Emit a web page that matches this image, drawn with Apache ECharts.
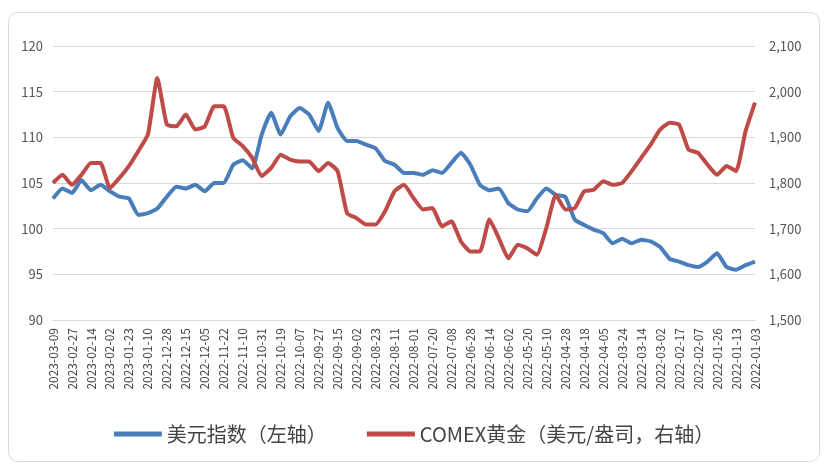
<!DOCTYPE html>
<html><head><meta charset="utf-8">
<script src="https://cdn.jsdelivr.net/npm/echarts@6/dist/echarts.min.js"></script>
<style>html,body{margin:0;background:#fff}#c{position:absolute;left:8px;top:12px;width:812px;height:450px;border:1px solid #d9d9d9;border-radius:10px;box-sizing:border-box}</style>
</head><body><div id="c"></div>
<script>
const dates = ["2023-03-09","2023-03-03","2023-02-27","2023-02-21","2023-02-14","2023-02-08","2023-02-02","2023-01-27","2023-01-23","2023-01-17","2023-01-10","2023-01-04","2022-12-28","2022-12-21","2022-12-15","2022-12-09","2022-12-05","2022-11-29","2022-11-22","2022-11-16","2022-11-10","2022-11-04","2022-10-31","2022-10-25","2022-10-19","2022-10-13","2022-10-07","2022-10-03","2022-09-27","2022-09-21","2022-09-15","2022-09-09","2022-09-02","2022-08-29","2022-08-23","2022-08-17","2022-08-11","2022-08-05","2022-08-01","2022-07-26","2022-07-20","2022-07-14","2022-07-08","2022-07-01","2022-06-28","2022-06-21","2022-06-14","2022-06-08","2022-06-02","2022-05-26","2022-05-20","2022-05-16","2022-05-10","2022-05-04","2022-04-28","2022-04-22","2022-04-18","2022-04-11","2022-04-05","2022-03-30","2022-03-24","2022-03-18","2022-03-14","2022-03-08","2022-03-02","2022-02-23","2022-02-17","2022-02-11","2022-02-07","2022-02-01","2022-01-26","2022-01-20","2022-01-13","2022-01-07","2022-01-03"];
const usdIndex = [103.3,104.4,103.9,105.3,104.2,104.8,104.1,103.5,103.3,101.5,101.7,102.2,103.5,104.6,104.4,104.8,104.1,105.0,105.0,107.0,107.5,106.6,110.3,112.7,110.3,112.3,113.2,112.5,110.7,113.8,111.0,109.6,109.6,109.2,108.8,107.4,107.0,106.1,106.1,105.9,106.4,106.1,107.2,108.3,107.0,104.8,104.2,104.4,102.8,102.1,101.9,103.3,104.4,103.7,103.5,101.0,100.4,99.9,99.5,98.4,98.9,98.4,98.8,98.6,98.0,96.7,96.4,96.0,95.8,96.4,97.3,95.8,95.5,96.0,96.4];
const gold = [1800,1818,1796,1818,1844,1844,1789,1811,1837,1870,1906,2030,1928,1924,1950,1917,1924,1968,1968,1899,1881,1855,1815,1833,1862,1851,1847,1847,1826,1844,1826,1734,1723,1709,1709,1738,1782,1796,1767,1742,1745,1705,1716,1672,1650,1650,1720,1679,1635,1665,1657,1643,1701,1774,1742,1745,1782,1785,1804,1796,1800,1826,1855,1884,1917,1932,1928,1873,1866,1840,1818,1837,1826,1913,1976];
const chart = echarts.init(document.getElementById('c'));
const f = "'Noto Sans CJK SC','Noto Sans',sans-serif";
chart.setOption({
  animation:false,
  textStyle:{fontFamily:f},
  grid:{left:44,right:64,top:33,bottom:141},
  legend:{bottom:12,itemWidth:48,itemHeight:5,itemGap:40,icon:'rect',textStyle:{fontSize:20,color:'#444',fontFamily:f},
    data:['美元指数（左轴）','COMEX黄金（美元/盎司，右轴）']},
  xAxis:{type:'category',data:dates,boundaryGap:false,
    axisLine:{lineStyle:{color:'#d9d9d9'}},axisTick:{show:false},
    axisLabel:{interval:1,rotate:90,fontSize:12,color:'#444',margin:8}},
  yAxis:[
    {type:'value',min:90,max:120,interval:5,axisLine:{show:false},axisTick:{show:false},
     splitLine:{lineStyle:{color:'#d9d9d9'}},axisLabel:{fontSize:13,color:'#555',margin:10}},
    {type:'value',min:1500,max:2100,interval:100,axisLine:{show:false},axisTick:{show:false},
     splitLine:{show:false},axisLabel:{fontSize:13,color:'#555',margin:14,formatter:v=>v.toLocaleString('en-US')}}
  ],
  series:[
    {name:'美元指数（左轴）',type:'line',data:usdIndex,yAxisIndex:0,showSymbol:false,smooth:0.15,lineStyle:{width:4,color:'#4a7ebb'},itemStyle:{color:'#4a7ebb'}},
    {name:'COMEX黄金（美元/盎司，右轴）',type:'line',data:gold,yAxisIndex:1,showSymbol:false,smooth:0.15,lineStyle:{width:4,color:'#be4b48'},itemStyle:{color:'#be4b48'}}
  ]
});
</script></body></html>
